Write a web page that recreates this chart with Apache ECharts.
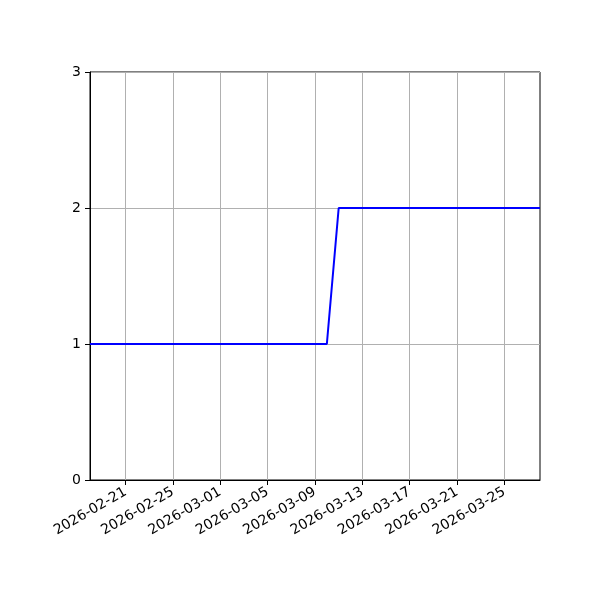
<!DOCTYPE html>
<html>
<head>
<meta charset="utf-8">
<script src="https://cdn.jsdelivr.net/npm/echarts@6/dist/echarts.min.js"></script>
<style>
  html, body { margin: 0; padding: 0; background: #fff; }
  #main { width: 600px; height: 600px; }
</style>
</head>
<body>
<div id="main"></div>
<script>
// daily dates, 2026-02-18 .. 2026-03-28
var dates = [
    '2026-02-18','2026-02-19','2026-02-20','2026-02-21','2026-02-22','2026-02-23','2026-02-24',
    '2026-02-25','2026-02-26','2026-02-27','2026-02-28','2026-03-01','2026-03-02','2026-03-03',
    '2026-03-04','2026-03-05','2026-03-06','2026-03-07','2026-03-08','2026-03-09','2026-03-10',
    '2026-03-11','2026-03-12','2026-03-13','2026-03-14','2026-03-15','2026-03-16','2026-03-17',
    '2026-03-18','2026-03-19','2026-03-20','2026-03-21','2026-03-22','2026-03-23','2026-03-24',
    '2026-03-25','2026-03-26','2026-03-27','2026-03-28'
];
var values = [
    1, 1, 1, 1, 1, 1, 1,
    1, 1, 1, 1, 1, 1, 1,
    1, 1, 1, 1, 1, 1, 1,
    2, 2, 2, 2, 2, 2, 2,
    2, 2, 2, 2, 2, 2, 2,
    2, 2, 2, 2
];
var tickDates = [
    '2026-02-21','2026-02-25','2026-03-01','2026-03-05','2026-03-09',
    '2026-03-13','2026-03-17','2026-03-21','2026-03-25'
];
var yTicks = [0, 1, 2, 3];

var isTick = function (index, value) {
    return tickDates.indexOf(value) >= 0;
};

var font = 'DejaVu Sans';

option = {
    backgroundColor: '#ffffff',
    animation: false,
    grid: {
        left: 90,
        right: 60,
        top: 72,
        bottom: 120,
        show: true,
        borderColor: '#000',
        borderWidth: 1,
        backgroundColor: 'transparent'
    },
    xAxis: {
        type: 'category',
        data: dates,
        boundaryGap: false,
        axisLine: { show: true, lineStyle: { color: '#000', width: 1 } },
        axisTick: {
            show: true,
            interval: isTick,
            length: 5,
            lineStyle: { color: '#000' }
        },
        axisLabel: {
            interval: isTick,
            rotate: 30,
            color: '#000',
            fontFamily: font,
            fontSize: 14,
            margin: 11
        },
        splitLine: {
            show: true,
            interval: isTick,
            lineStyle: { color: '#b0b0b0', width: 1 }
        }
    },
    yAxis: {
        type: 'value',
        min: yTicks[0],
        max: yTicks[yTicks.length - 1],
        interval: 1,
        axisLine: { show: true, lineStyle: { color: '#000', width: 1 } },
        axisTick: { show: true, length: 5, lineStyle: { color: '#000' } },
        axisLabel: {
            color: '#000',
            fontFamily: font,
            fontSize: 14,
            margin: 9
        },
        splitLine: { show: true, lineStyle: { color: '#b0b0b0', width: 1 } }
    },
    series: [
        {
            type: 'line',
            data: values,
            showSymbol: false,
            lineStyle: { color: '#0000ff', width: 2 },
            itemStyle: { color: '#0000ff' }
        }
    ]
};

var myChart = echarts.init(document.getElementById('main'));
myChart.setOption(option);
</script>
</body>
</html>
